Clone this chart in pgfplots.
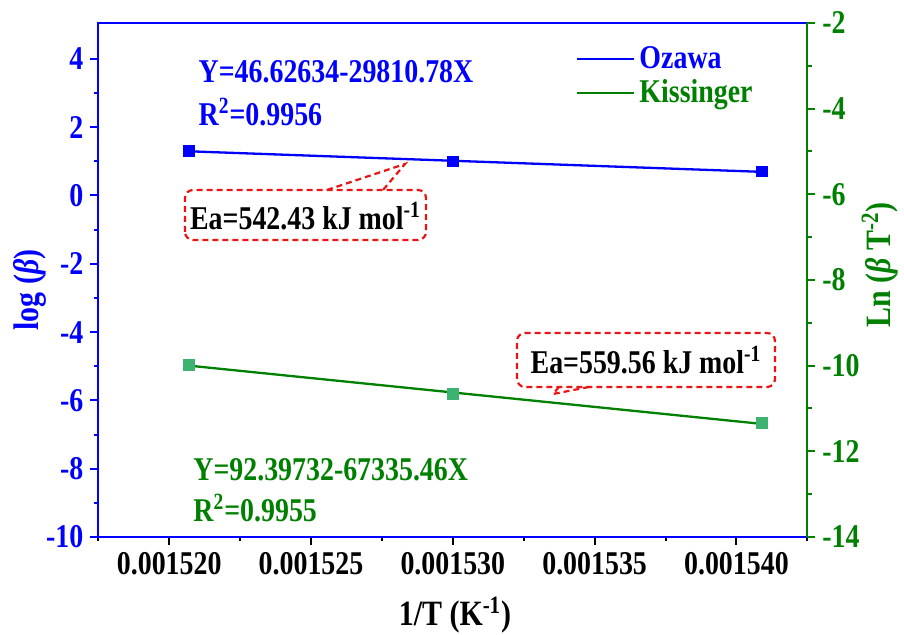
\documentclass[border=0pt]{standalone}
\usepackage{fontspec}
\setmainfont{Liberation Serif}[FakeStretch=0.84]
\usepackage{pgfplots}
\pgfplotsset{compat=1.18}
\definecolor{ozb}{RGB}{0,0,255}
\definecolor{kg}{RGB}{0,128,0}
\definecolor{kgm}{RGB}{60,179,113}
\definecolor{ered}{RGB}{235,20,20}
\newcommand{\tf}{\fontsize{16.6}{19}\selectfont\bfseries}
\newcommand{\lf}{\fontsize{17.8}{20}\selectfont\bfseries}
\begin{document}
\begin{tikzpicture}
\useasboundingbox (-49.15pt,-49pt) rectangle (402.85pt,268.5pt);
\begin{axis}[
  scale only axis, width=354.5pt, height=257pt,
  xmin=0.0015175, xmax=0.0015425, ymin=-10, ymax=5.05,
  xtick={0.00152,0.001525,0.00153,0.001535,0.00154},
  xticklabels={0.001520,0.001525,0.001530,0.001535,0.001540},
  minor xtick={0.0015175,0.0015225,0.0015275,0.0015325,0.0015375,0.0015425},
  ytick={-10,-8,-6,-4,-2,0,2,4}, minor ytick={-9,-7,-5,-3,-1,1,3},
  xtick pos=bottom, ytick pos=left, tick align=outside,
  major tick length=4pt, minor tick length=2.2pt,
  every tick/.style={line width=1pt},
  axis line style={line width=1pt, black},
  y axis line style={ozb},
  y tick style={ozb, line width=1pt}, minor y tick style={ozb, line width=1pt},
  x tick style={black, line width=1pt},
  tick label style={font=\tf},
  yticklabel style={ozb},
  /pgf/number format/assume math mode=true,
  scaled x ticks=false,
]
\addplot[ozb, line width=1.15pt, forget plot] coordinates {(0.0015207,1.2931) (0.0015409,0.6909)};
\addplot[only marks, mark=square*, mark size=2.6pt, ozb, forget plot] coordinates {(0.0015207,1.3010) (0.0015300,1.0000) (0.0015409,0.6990)};
\end{axis}
\begin{axis}[
  scale only axis, width=354.5pt, height=257pt,
  xmin=0.0015175, xmax=0.0015425, ymin=-14, ymax=-2,
  axis x line=none, axis y line*=right,
  ytick={-14,-12,-10,-8,-6,-4,-2}, minor ytick={-13,-11,-9,-7,-5,-3},
  tick align=outside,
  major tick length=4pt, minor tick length=2.2pt,
  axis line style={line width=1pt, kg},
  y tick style={kg, line width=1pt}, minor y tick style={kg, line width=1pt},
  tick label style={font=\tf},
  yticklabel style={kg},
  /pgf/number format/assume math mode=true,
  legend style={at={(0.665,0.97)}, anchor=north west, draw=none, fill=none, font=\tf, row sep=0pt},
  legend cell align=left,
  legend image code/.code={\draw[#1] (0pt,0pt) -- (28.5pt,0pt);},
]
\addlegendimage{ozb, line width=1.15pt}
\addlegendentry{\textcolor{ozb}{Ozawa}}
\addplot[kg, line width=1.15pt] coordinates {(0.0015207,-9.9997) (0.0015409,-11.3599)};
\addlegendentry{\textcolor{kg}{Kissinger}}
\addplot[only marks, mark=square*, mark size=2.6pt, kgm, forget plot] coordinates {(0.0015207,-9.9815) (0.0015300,-10.662) (0.0015409,-11.341)};
\end{axis}
% texts
\node[anchor=west, ozb, font=\tf, inner sep=0pt] at (50pt,232.5pt) {Y=46.62634-29810.78X};
\node[anchor=west, ozb, font=\tf, inner sep=0pt] at (50pt,212.5pt) {R\textsuperscript{2}=0.9956};
\node[anchor=west, kg, font=\tf, inner sep=0pt] at (47.35pt,33.5pt) {Y=92.39732-67335.46X};
\node[anchor=west, kg, font=\tf, inner sep=0pt] at (47.35pt,14.5pt) {R\textsuperscript{2}=0.9955};
% annotation 1
\draw[ered, line width=1.1pt, dash pattern=on 3pt off 2pt, rounded corners=4pt, fill=white] (43.35pt,148.5pt) rectangle (163.85pt,173.5pt);
\draw[ered, line width=1.1pt, dash pattern=on 3pt off 2pt] (114.35pt,173.5pt) -- (153.35pt,186.5pt) -- (142.35pt,173.5pt);
\node[font=\tf, inner sep=0pt] at (103.6pt,160.5pt) {Ea=542.43 kJ mol\textsuperscript{-1}};
% annotation 2
\draw[ered, line width=1.1pt, dash pattern=on 3pt off 2pt, rounded corners=4pt, fill=white] (209.35pt,75pt) rectangle (338.35pt,102pt);
\draw[ered, line width=1.1pt, dash pattern=on 3pt off 2pt] (230.35pt,75pt) -- (227.35pt,71.5pt) -- (245.35pt,75pt);
\node[font=\tf, inner sep=0pt] at (273.85pt,88.5pt) {Ea=559.56 kJ mol\textsuperscript{-1}};
% axis labels
\node[rotate=90, ozb, font=\lf] at (-34.15pt,123.5pt) {log (\textit{β})};
\node[rotate=90, kg, font=\lf] at (390.85pt,136pt) {Ln (\textit{β} T\textsuperscript{-2})};
\node[font=\lf] at (178.35pt,-39pt) {1/T (K\textsuperscript{-1})};
\end{tikzpicture}
\end{document}
